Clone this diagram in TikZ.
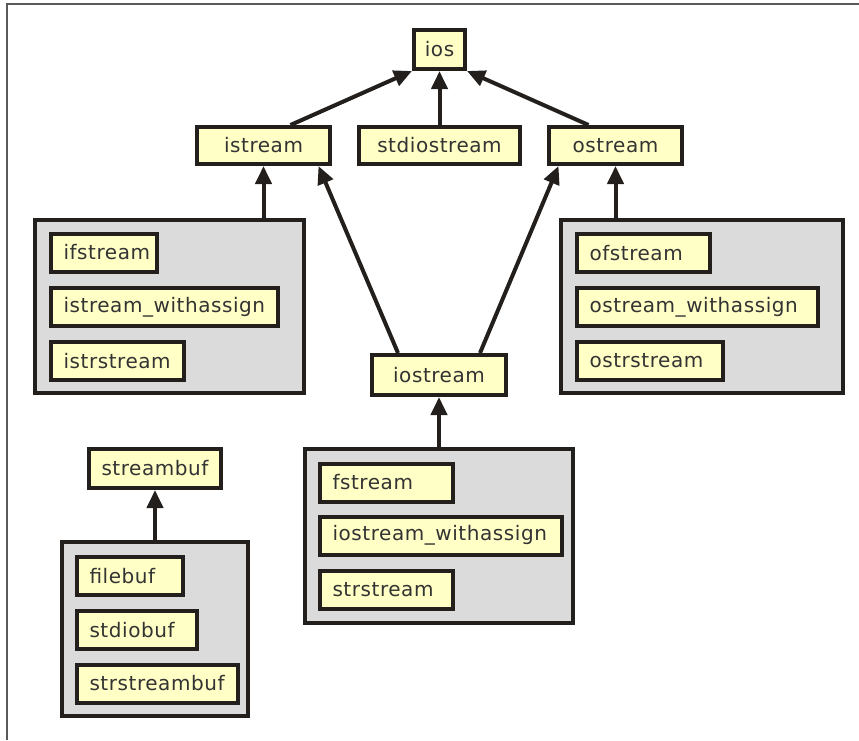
\documentclass[tikz,border=0pt]{standalone}
\usepackage{fontspec}
\setmainfont{DejaVu Sans}[LetterSpace=2.8]
\usetikzlibrary{arrows.meta,calc}
\definecolor{edge}{HTML}{231F1C}
\definecolor{cls}{HTML}{FFFFC6}
\definecolor{grp}{HTML}{DBDBDB}
\definecolor{txt}{HTML}{333333}
\definecolor{frame}{HTML}{5A5A5A}
\begin{document}
\begin{tikzpicture}[x=1pt,y=-1pt,
  base/.style={draw=edge,line width=4pt,inner sep=0pt,font=\fontsize{20}{24}\selectfont,text=txt},
  topcls/.style={base,fill=cls,minimum height=38pt},
  item/.style={base,fill=cls,anchor=west,minimum height=38pt,inner xsep=12.5pt,align=left},
  group/.style={draw=edge,line width=4pt,fill=grp,inner sep=0pt},
  inh/.style={draw=edge,line width=4pt,-{Triangle[length=18pt,width=16pt]}}]
\useasboundingbox (0,0) rectangle (859,740);
\draw[frame,line width=2pt] (7,740) -- (7,4) -- (859,4);

% groups
\node[group,minimum width=269pt,minimum height=173pt] (gL) at (169.5,306.5) {};
\node[group,minimum width=282pt,minimum height=173pt] (gR) at (702,306.5) {};
\node[group,minimum width=268pt,minimum height=174pt] (gM) at (439,536) {};
\node[group,minimum width=186pt,minimum height=174pt] (gB) at (155,629) {};

% top classes
\node[topcls,minimum width=51pt,minimum height=39pt] (ios) at (439.5,49.5) {ios};
\node[topcls,minimum width=133pt,minimum height=37pt] (istream) at (263.5,145.5) {istream};
\node[topcls,minimum width=161pt,minimum height=37pt] (stdiostream) at (439.5,145.5) {stdiostream};
\node[topcls,minimum width=133pt,minimum height=37pt] (ostream) at (615.5,145.5) {ostream};
\node[topcls,minimum width=134pt,minimum height=40pt] (iostream) at (439,375) {iostream};
\node[topcls,minimum width=132pt,minimum height=39pt] (streambuf) at (155,468.5) {streambuf};

% group members
\node[item,text width=81pt] (ifstream) at (49,252.5) {ifstream};
\node[item,text width=202pt] (iswa) at (49,307) {istream\_withassign};
\node[item,text width=108pt] (istrstream) at (49,361) {istrstream};

\node[item,text width=108pt] (ofstream) at (575,253) {ofstream};
\node[item,text width=216pt] (oswa) at (575,307) {ostream\_withassign};
\node[item,text width=121pt] (ostrstream) at (575,361) {ostrstream};

\node[item,text width=108pt] (fstream) at (318,482.5) {fstream};
\node[item,text width=217pt] (ioswa) at (318,535.5) {iostream\_withassign};
\node[item,text width=108pt] (strstream) at (318,590) {strstream};

\node[item,text width=81pt] (filebuf) at (75,576) {filebuf};
\node[item,text width=95pt] (stdiobuf) at (75,630) {stdiobuf};
\node[item,text width=136pt] (strstreambuf) at (75,683.5) {strstreambuf};

% inheritance arrows
\draw[inh] ([xshift=27pt]istream.north) -- (ios.south west);
\draw[inh] (stdiostream.north) -- (ios.south);
\draw[inh] ([xshift=-27pt]ostream.north) -- (ios.south east);
\draw[inh] (istream.south |- gL.north) -- (istream.south);
\draw[inh] (ostream.south |- gR.north) -- (ostream.south);
\draw[inh] ([xshift=-41pt]iostream.north) -- ([xshift=55pt]istream.south);
\draw[inh] ([xshift=41pt]iostream.north) -- ([xshift=-57pt]ostream.south);
\draw[inh] (gM.north) -- (iostream.south);
\draw[inh] (gB.north) -- (streambuf.south);
\end{tikzpicture}
\end{document}
